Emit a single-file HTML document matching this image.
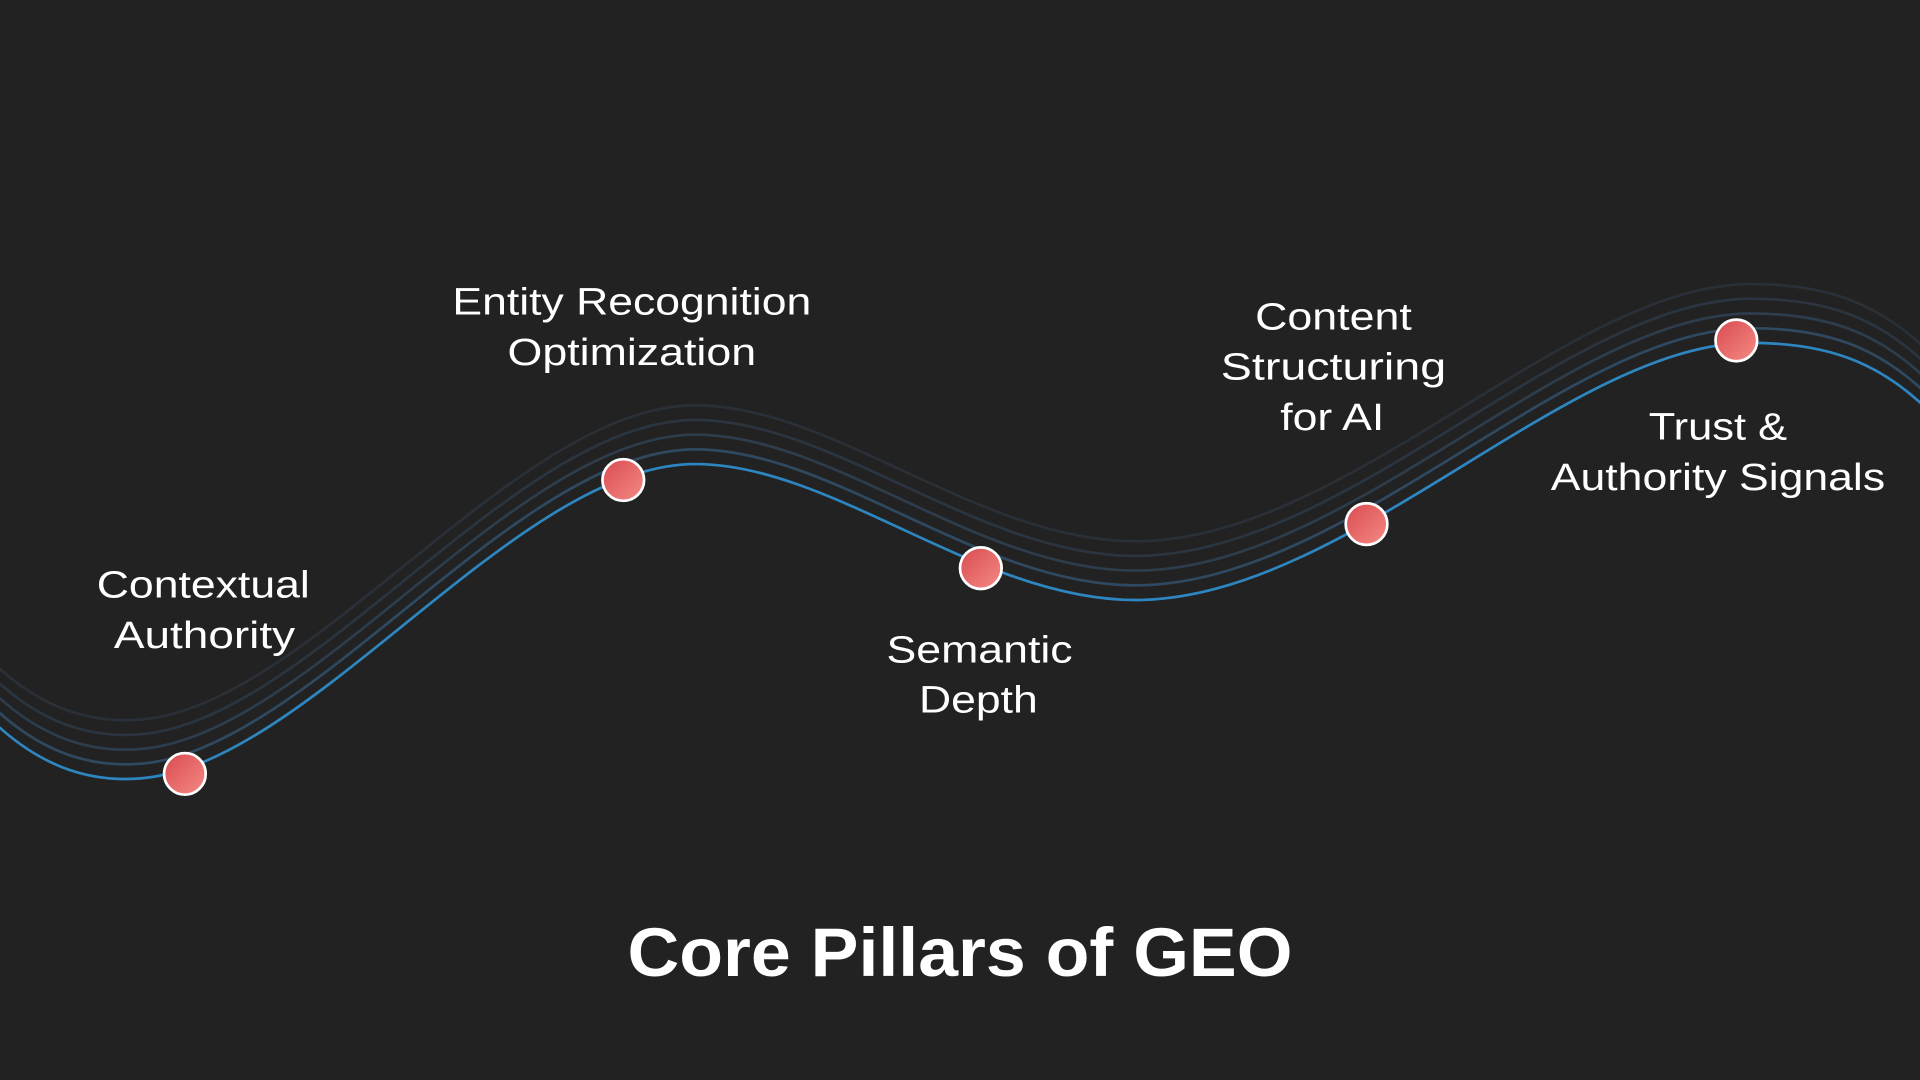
<!DOCTYPE html>
<html><head><meta charset="utf-8"><style>
html,body{margin:0;padding:0;background:#222222;}
svg{display:block;}
text{font-family:"Liberation Sans",sans-serif;fill:#ffffff;text-anchor:middle;}
</style></head><body>
<svg width="1920" height="1080" viewBox="0 0 1568 882" xmlns="http://www.w3.org/2000/svg">
<defs>
<linearGradient id="g" x1="0" y1="0" x2="1" y2="1">
<stop offset="0" stop-color="#d94b50"/><stop offset="1" stop-color="#f58a85"/>
</linearGradient>
<path id="c" d="M -10,585 C 30,625 70,638 110,636 C 250,630 420,379 568,379 C 680,379 800,490 927,490 C 1100,490 1280,280 1430,280 C 1500,280 1540,300 1580,340"/>
</defs>
<rect width="1568" height="882" fill="#222222"/>
<g fill="none" stroke-width="2.2">
<use href="#c" transform="translate(0,-48)" stroke="#2a3038"/>
<use href="#c" transform="translate(0,-36)" stroke="#2b3540"/>
<use href="#c" transform="translate(0,-24)" stroke="#2d3d4c"/>
<use href="#c" transform="translate(0,-12)" stroke="#2f4a60"/>
<use href="#c" stroke="#2e86c1"/>
</g>
<g fill="url(#g)" stroke="#ffffff" stroke-width="2.2">
<circle cx="151" cy="632" r="17"/>
<circle cx="509" cy="392" r="17"/>
<circle cx="801" cy="464" r="17"/>
<circle cx="1116" cy="428" r="17"/>
<circle cx="1418" cy="278" r="17"/>
</g>
<g font-size="31">
<text x="166" y="488" textLength="174" lengthAdjust="spacingAndGlyphs">Contextual</text><text x="167" y="529" textLength="148" lengthAdjust="spacingAndGlyphs">Authority</text>
<text x="516" y="257" textLength="293" lengthAdjust="spacingAndGlyphs">Entity Recognition</text><text x="516" y="298" textLength="203" lengthAdjust="spacingAndGlyphs">Optimization</text>
<text x="800" y="541" textLength="152" lengthAdjust="spacingAndGlyphs">Semantic</text><text x="799" y="582" textLength="97" lengthAdjust="spacingAndGlyphs">Depth</text>
<text x="1089" y="269" textLength="128" lengthAdjust="spacingAndGlyphs">Content</text><text x="1089" y="310" textLength="184" lengthAdjust="spacingAndGlyphs">Structuring</text><text x="1088" y="351" textLength="85" lengthAdjust="spacingAndGlyphs">for AI</text>
<text x="1403" y="359" textLength="113" lengthAdjust="spacingAndGlyphs">Trust &amp;</text><text x="1403" y="400" textLength="273" lengthAdjust="spacingAndGlyphs">Authority Signals</text>
</g>
<text x="784" y="797" font-size="56" font-weight="bold" textLength="543" lengthAdjust="spacingAndGlyphs">Core Pillars of GEO</text>
</svg>
</body></html>
